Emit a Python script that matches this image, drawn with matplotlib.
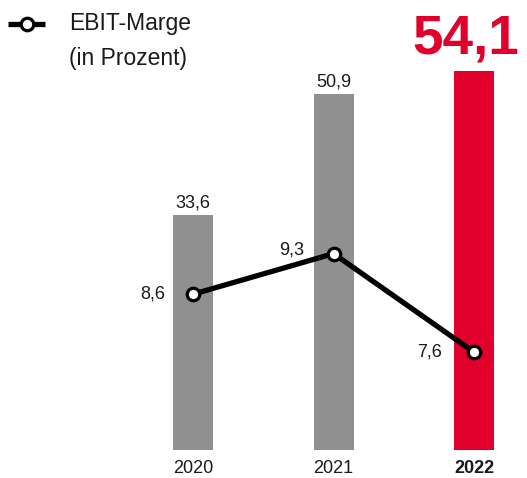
import matplotlib
matplotlib.use("Agg")
import matplotlib.pyplot as plt
from matplotlib.lines import Line2D

# data
years = ["2020", "2021", "2022"]
bar_values = [33.6, 50.9, 54.1]
margin_values = [8.6, 9.3, 7.6]
bar_labels = ["33,6", "50,9", "54,1"]
margin_labels = ["8,6", "9,3", "7,6"]

GRAY = "#909090"
RED = "#E0002B"
TEXT = "#1a1a1a"

plt.rcParams["font.family"] = ["Liberation Sans", "DejaVu Sans"]

fig = plt.figure(figsize=(5.27, 4.78), dpi=100)
ax = fig.add_axes([0, 0, 1, 1])
ax.set_xlim(-1.374, 2.377)
ax.set_ylim(-4.0, 64.29)
ax.axis("off")

x = list(range(len(years)))
colors = [GRAY, GRAY, RED]
ax.bar(x, bar_values, width=0.285, color=colors, zorder=1)

# bar value labels
for i, (v, lab) in enumerate(zip(bar_values, bar_labels)):
    if i == len(years) - 1:
        ax.text(i - 0.06, v + 2.6, lab, ha="center", va="baseline",
                fontsize=39.5, fontweight="bold", color=RED)
    else:
        ax.text(i, v + 1.05, lab, ha="center", va="baseline",
                fontsize=13, color=TEXT)

# year labels
for i, y in enumerate(years):
    ax.text(i, -2.6, y, ha="center", va="center", fontsize=13, color=TEXT,
            fontweight="bold" if i == len(years) - 1 else "normal")

# EBIT margin line on its own scale
ax2 = fig.add_axes([0, 0, 1, 1], sharex=ax)
ax2.set_ylim(5.428, 13.677)
ax2.axis("off")
ax2.patch.set_visible(False)
ax2.plot(x, margin_values, color="black", lw=3.8, zorder=3,
         marker="o", ms=9, mfc="white", mec="black", mew=2.3)
offsets = [(-0.29, 0.0), (-0.30, 0.06), (-0.32, 0.0)]
for i, (v, lab) in enumerate(zip(margin_values, margin_labels)):
    dx, dy = offsets[i]
    ax2.text(i + dx, v + dy, lab, ha="center", va="center",
             fontsize=13, color=TEXT)

# legend
fig.add_artist(Line2D([8 / 527, 45 / 527], [1 - 24 / 478, 1 - 24 / 478],
                      transform=fig.transFigure, color="black", lw=3.8,
                      solid_capstyle="butt"))
fig.add_artist(Line2D([27 / 527], [1 - 24 / 478], transform=fig.transFigure,
                      marker="o", ms=9, mfc="white", mec="black", mew=2.3))
fig.text(69 / 527, 1 - 23.5 / 478, "EBIT-Marge", ha="left", va="center",
         fontsize=16.5, color=TEXT)
fig.text(69 / 527, 1 - 59 / 478, "(in Prozent)", ha="left", va="center",
         fontsize=16.5, color=TEXT)

fig.savefig("out.png", dpi=100)
